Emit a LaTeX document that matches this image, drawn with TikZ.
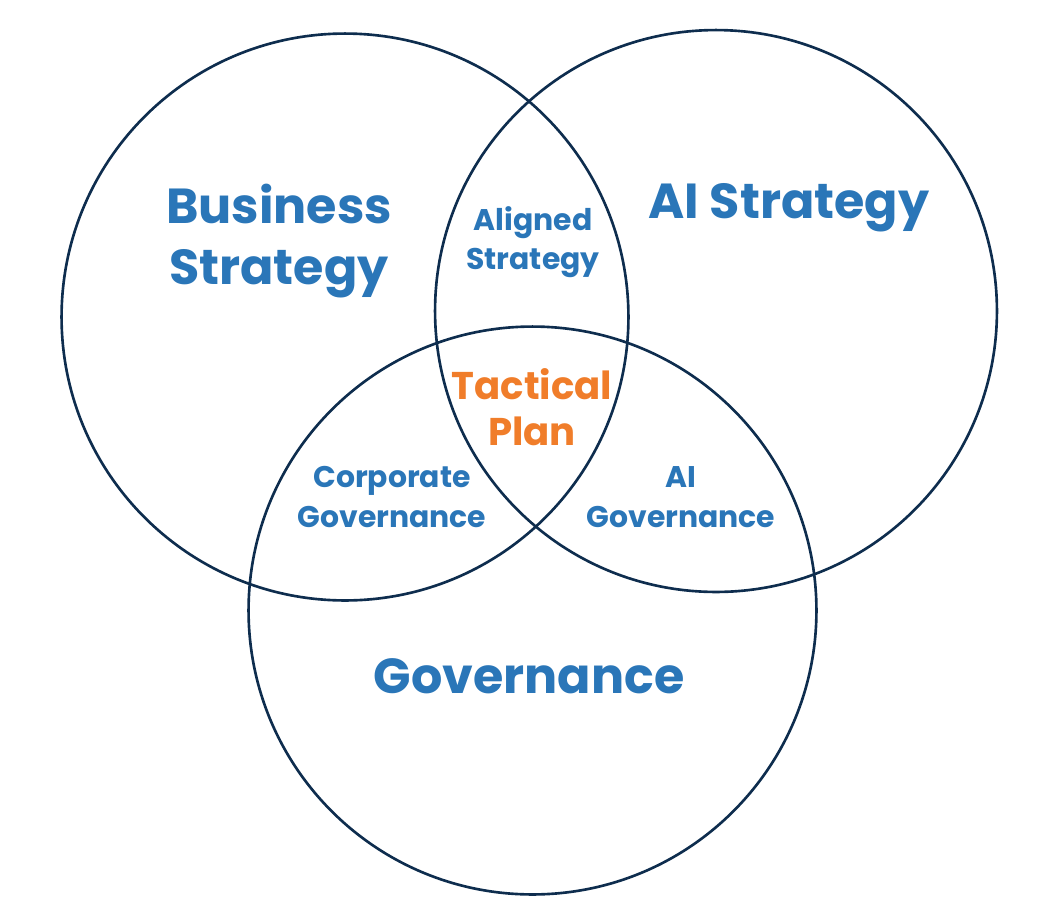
\documentclass[tikz,border=0pt]{standalone}
\usepackage{fontspec}
\setmainfont{Poppins}
\usepackage{xcolor}
\usepackage{tikz}
\usetikzlibrary{positioning}

\definecolor{ringblue}{HTML}{0E2D4E}
\definecolor{textblue}{HTML}{2A76B8}
\definecolor{planorange}{HTML}{F07D2A}

\tikzset{
  ring/.style={circle,draw=ringblue,line width=1.5pt,inner sep=0pt,outer sep=0pt},
  bigtext/.style={text=textblue,font=\fontsize{28}{35}\selectfont\bfseries,align=center},
  smalltext/.style={text=textblue,font=\fontsize{17}{22.5}\selectfont\bfseries,align=center},
}

\begin{document}
\begin{tikzpicture}[x=0.02cm,y=-0.02cm]
            \useasboundingbox (0,0) rectangle (1056,914);
            \node[ring,minimum size=11.34cm](bs) at (345,317) {};
            \node[ring,minimum size=11.24cm](ais) at (716,311) {};
            \node[ring,minimum size=11.36cm](gov) at (532.5,610.5) {};
            \node[bigtext](bslabel) at (279,241) {Business\\Strategy};
            \node[bigtext](aislabel) at (789,208) {AI Strategy};
            \node[bigtext](govlabel) at (529,676) {Governance};
            \node[smalltext](aligned) at (533,242) {Aligned\\Strategy};
            \node[smalltext](corp) at (392,497) {Corporate\\Governance};
            \node[smalltext](aigov) at (681,497) {AI\\Governance};
            \node[text=planorange,font=\fontsize{22}{26}\selectfont\bfseries,align=center](plan) at (532,407) {Tactical\\Plan};
        \end{tikzpicture}
\end{document}
